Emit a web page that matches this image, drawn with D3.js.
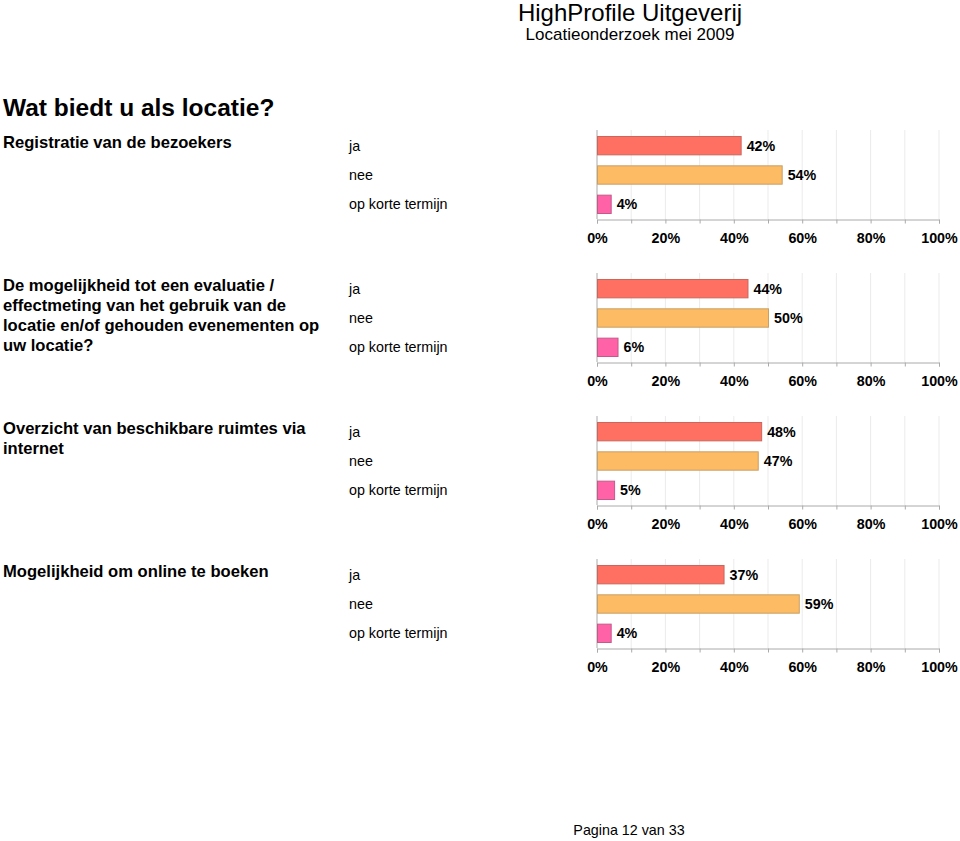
<!DOCTYPE html>
<html>
<head>
<meta charset="utf-8">
<script src="https://cdn.jsdelivr.net/npm/d3@7"></script>
<style>
  body { margin: 0; background: #fff; }
  svg { display: block; font-family: "Liberation Sans", Arial, sans-serif; }
</style>
</head>
<body>
<div id="chart"></div>
<script>
// data
var categories = ["ja", "nee", "op korte termijn"];
var questions = [
    ["Registratie van de bezoekers"],
    ["De mogelijkheid tot een evaluatie /", "effectmeting van het gebruik van de", "locatie en/of gehouden evenementen op", "uw locatie?"],
    ["Overzicht van beschikbare ruimtes via", "internet"],
    ["Mogelijkheid om online te boeken"]
];
var values = [
    [42, 54, 4],
    [44, 50, 6],
    [48, 47, 5],
    [37, 59, 4]
];
var tickValues = [0, 20, 40, 60, 80, 100];
var gridValues = [0, 10, 20, 30, 40, 50, 60, 70, 80, 90, 100];

var fills = ["#ff7063", "#fdbb63", "#ff62a6"];
var strokes = ["#c9675c", "#c9a064", "#c45a8a"];

var width = 960, height = 841;
var svg = d3.select("#chart").append("svg")
    .attr("width", width)
    .attr("height", height);

// header
svg.append("text").attr("x", 630).attr("y", 21).attr("text-anchor", "middle")
    .attr("font-size", "24px").text("HighProfile Uitgeverij");
svg.append("text").attr("x", 630).attr("y", 40).attr("text-anchor", "middle")
    .attr("font-size", "17px").text("Locatieonderzoek mei 2009");

svg.append("text").attr("x", 3).attr("y", 116)
    .attr("font-size", "24.5px").attr("font-weight", "bold")
    .text("Wat biedt u als locatie?");

var x = d3.scaleLinear().domain([0, 100]).range([597, 939]);
var y = d3.scaleBand().domain(categories).range([131, 219])
    .paddingInner(0.34).paddingOuter(0.17);

var panelStep = 143;

questions.forEach(function(q, i){
    var g = svg.append("g").attr("transform", "translate(0," + (i * panelStep) + ")");

    // question text
    var qt = g.append("text").attr("x", 3).attr("y", 148)
        .attr("font-size", "16.6px").attr("font-weight", "bold");
    q.forEach(function(line, j){
        qt.append("tspan").attr("x", 3).attr("dy", j == 0 ? 0 : 20).text(line);
    });

    // category labels
    g.selectAll(".cat").data(categories).enter().append("text")
        .attr("x", 349)
        .attr("y", function(d){ return y(d) + y.bandwidth() / 2 + 5; })
        .attr("font-size", "14.3px")
        .text(function(d){ return d; });

    // grid
    g.selectAll(".grid").data(gridValues).enter().append("line")
        .attr("x1", function(d){ return x(d); })
        .attr("x2", function(d){ return x(d); })
        .attr("y1", 130).attr("y2", 219)
        .style("stroke", function(d){ return d == 0 ? "#aaa" : "#ebebeb"; })
        .style("stroke-width", 1);

    // axis
    var axis = d3.axisBottom(x).tickValues(gridValues).tickSize(4)
        .tickFormat(function(d){ return tickValues.indexOf(d) >= 0 ? d + "%" : ""; });
    var ax = g.append("g").attr("transform", "translate(0,219.5)").call(axis);
    ax.select(".domain").style("stroke", "#aaa");
    ax.selectAll(".tick line").style("stroke", "#aaa");
    ax.selectAll(".tick text")
        .attr("y", 13)
        .attr("font-family", "Liberation Sans, Arial, sans-serif")
        .attr("font-size", "14.3px").attr("font-weight", "bold").attr("fill", "#000");

    // bars
    g.selectAll(".bar").data(values[i]).enter().append("rect")
        .attr("x", x(0) + 0.5)
        .attr("y", function(d, k){ return y(categories[k]) + 0.5; })
        .attr("width", function(d){ return x(d) - x(0); })
        .attr("height", y.bandwidth() - 1)
        .style("fill", function(d, k){ return fills[k]; })
        .style("stroke", function(d, k){ return strokes[k]; })
        .style("stroke-width", 1);

    g.selectAll(".val").data(values[i]).enter().append("text")
        .attr("x", function(d){ return x(d) + 6; })
        .attr("y", function(d, k){ return y(categories[k]) + y.bandwidth() / 2 + 5; })
        .attr("font-size", "14.3px").attr("font-weight", "bold")
        .text(function(d){ return d + "%"; });
});

svg.append("text").attr("x", 629).attr("y", 835).attr("text-anchor", "middle")
    .attr("font-size", "14.3px").text("Pagina 12 van 33");
</script>
</body>
</html>
